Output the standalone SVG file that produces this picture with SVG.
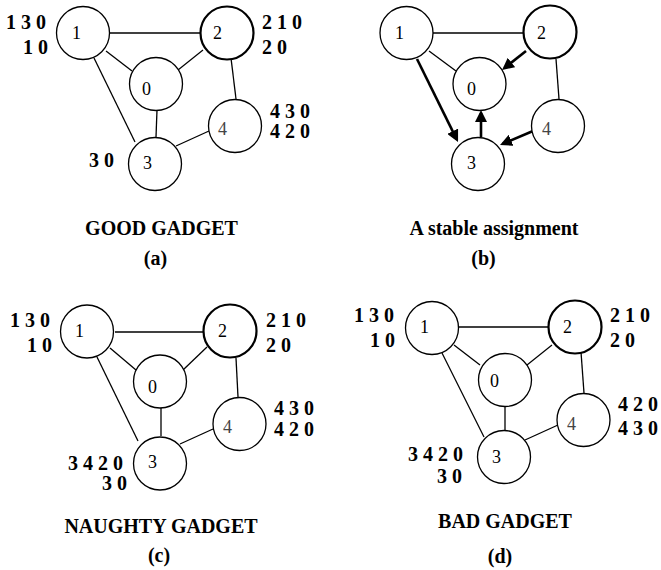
<svg xmlns="http://www.w3.org/2000/svg" width="661" height="570" viewBox="0 0 661 570">
<style>
.n{fill:#fff;stroke:#000;stroke-width:1.3}
.t{stroke-width:2.2}
.e{stroke:#000;stroke-width:1.3;fill:none}
.a{stroke:#000;stroke-width:2.6;fill:none;marker-end:url(#ah)}
.nl{font-family:"Liberation Serif",serif;font-size:18px;fill:#000}
.g{fill:#444}
.d{font-family:"Liberation Serif",serif;font-size:20px;font-weight:bold;fill:#000}
.ti{font-family:"Liberation Serif",serif;font-size:20px;font-weight:bold;fill:#000;text-anchor:middle}
</style>
<defs>
<marker id="ah" markerUnits="userSpaceOnUse" markerWidth="13" markerHeight="12" refX="9" refY="6" orient="auto">
<path d="M0,0 L12,6 L0,12 z" fill="#000"/>
</marker>
</defs>
<rect width="661" height="570" fill="#fff"/>

<!-- Panel (a) -->
<g id="connectors-a">
<line class="e" x1="110" y1="33" x2="200" y2="33"/>
<line class="e" x1="106" y1="51" x2="132" y2="71"/>
<line class="e" x1="203" y1="50" x2="178" y2="70"/>
<line class="e" x1="231" y1="58" x2="236" y2="99"/>
<line class="e" x1="94" y1="58" x2="135" y2="142"/>
<line class="e" x1="157" y1="110" x2="156" y2="137"/>
<line class="e" x1="209" y1="131" x2="176" y2="146"/>
</g>
<g id="a-node1"><circle class="n" cx="83" cy="33" r="26.5"/><text class="nl" x="72" y="39">1</text></g>
<g id="a-node2"><circle class="n t" cx="227" cy="33" r="26.5"/><text class="nl" x="213" y="39">2</text></g>
<g id="a-node0"><circle class="n" cx="156" cy="84" r="26.5"/><text class="nl" x="142" y="95">0</text></g>
<g id="a-node4"><circle class="n" cx="235" cy="126" r="26.5"/><text class="nl g" x="218" y="135">4</text></g>
<g id="a-node3"><circle class="n" cx="155" cy="164" r="26.5"/><text class="nl" x="143" y="169">3</text></g>
<g id="a-labels">
<text class="d" x="6" y="29" xml:space="preserve">1 3 0</text>
<text class="d" x="23" y="54" xml:space="preserve">1 0</text>
<text class="d" x="262" y="29" xml:space="preserve">2 1 0</text>
<text class="d" x="262" y="54" xml:space="preserve">2 0</text>
<text class="d" x="270" y="118" xml:space="preserve">4 3 0</text>
<text class="d" x="270" y="138" xml:space="preserve">4 2 0</text>
<text class="d" x="89" y="167" xml:space="preserve">3 0</text>
<text class="ti" x="161.5" y="235">GOOD GADGET</text>
<text class="ti" x="155.5" y="265">(a)</text>
</g>

<!-- Panel (b) -->
<g id="connectors-b">
<line class="e" x1="433" y1="33" x2="525" y2="33"/>
<line class="e" x1="429" y1="51" x2="456" y2="71"/>
<line class="e" x1="556" y1="59" x2="559" y2="99"/>
<line class="a" x1="526" y1="51" x2="504.4" y2="68.1"/>
<line class="a" x1="417" y1="59" x2="456.7" y2="139.3"/>
<line class="a" x1="481" y1="137" x2="481" y2="113"/>
<line class="a" x1="533" y1="131" x2="502.8" y2="143.8"/>
</g>
<g id="b-node1"><circle class="n" cx="406.5" cy="33" r="26.5"/><text class="nl" x="395" y="39">1</text></g>
<g id="b-node2"><circle class="n t" cx="550" cy="32" r="26.5"/><text class="nl" x="537" y="39">2</text></g>
<g id="b-node0"><circle class="n" cx="479.5" cy="84" r="26.5"/><text class="nl" x="467" y="95">0</text></g>
<g id="b-node4"><circle class="n" cx="558" cy="126" r="26.5"/><text class="nl g" x="542" y="135">4</text></g>
<g id="b-node3"><circle class="n" cx="478" cy="164" r="26.5"/><text class="nl" x="467" y="169">3</text></g>
<g id="b-labels">
<text class="ti" x="494" y="235">A stable assignment</text>
<text class="ti" x="483.5" y="265">(b)</text>
</g>

<!-- Panel (c) -->
<g id="connectors-c">
<line class="e" x1="115" y1="332" x2="205" y2="332"/>
<line class="e" x1="110" y1="348" x2="136" y2="370"/>
<line class="e" x1="207" y1="347" x2="183" y2="370"/>
<line class="e" x1="236" y1="358" x2="238" y2="397"/>
<line class="e" x1="97" y1="357" x2="138" y2="441"/>
<line class="e" x1="161" y1="408" x2="161" y2="436"/>
<line class="e" x1="213" y1="429" x2="180" y2="444"/>
</g>
<g id="c-node1"><circle class="n" cx="87" cy="331.5" r="26.5"/><text class="nl" x="75" y="337">1</text></g>
<g id="c-node2"><circle class="n t" cx="230" cy="331" r="26.5"/><text class="nl" x="218" y="337">2</text></g>
<g id="c-node0"><circle class="n" cx="160" cy="381.5" r="26.5"/><text class="nl" x="148" y="393">0</text></g>
<g id="c-node4"><circle class="n" cx="239.5" cy="424" r="26.5"/><text class="nl g" x="223" y="433">4</text></g>
<g id="c-node3"><circle class="n" cx="160" cy="463.5" r="26.5"/><text class="nl" x="148" y="468">3</text></g>
<g id="c-labels">
<text class="d" x="10" y="327" xml:space="preserve">1 3 0</text>
<text class="d" x="27" y="352" xml:space="preserve">1 0</text>
<text class="d" x="266" y="327" xml:space="preserve">2 1 0</text>
<text class="d" x="266" y="352" xml:space="preserve">2 0</text>
<text class="d" x="274" y="415" xml:space="preserve">4 3 0</text>
<text class="d" x="274" y="436" xml:space="preserve">4 2 0</text>
<text class="d" x="68" y="470" xml:space="preserve">3 4 2 0</text>
<text class="d" x="102" y="490" xml:space="preserve">3 0</text>
<text class="ti" x="161" y="533">NAUGHTY GADGET</text>
<text class="ti" x="159" y="562">(c)</text>
</g>

<!-- Panel (d) -->
<g id="connectors-d">
<line class="e" x1="459" y1="327" x2="550" y2="327"/>
<line class="e" x1="454" y1="345" x2="480" y2="365"/>
<line class="e" x1="552" y1="345" x2="527" y2="365"/>
<line class="e" x1="581" y1="352" x2="584" y2="393"/>
<line class="e" x1="442" y1="353" x2="484" y2="437"/>
<line class="e" x1="505" y1="407" x2="505" y2="431"/>
<line class="e" x1="558" y1="425" x2="525" y2="440"/>
</g>
<g id="d-node1"><circle class="n" cx="432" cy="328" r="26.5"/><text class="nl" x="420" y="333">1</text></g>
<g id="d-node2"><circle class="n t" cx="575" cy="327" r="26.5"/><text class="nl" x="563" y="333">2</text></g>
<g id="d-node0"><circle class="n" cx="505" cy="380" r="26.5"/><text class="nl" x="490" y="387">0</text></g>
<g id="d-node4"><circle class="n" cx="583.5" cy="420" r="26.5"/><text class="nl g" x="567" y="430">4</text></g>
<g id="d-node3"><circle class="n" cx="504" cy="457" r="26.5"/><text class="nl" x="492" y="463">3</text></g>
<g id="d-labels">
<text class="d" x="354" y="322" xml:space="preserve">1 3 0</text>
<text class="d" x="370" y="347" xml:space="preserve">1 0</text>
<text class="d" x="610" y="322" xml:space="preserve">2 1 0</text>
<text class="d" x="610" y="347" xml:space="preserve">2 0</text>
<text class="d" x="618" y="411" xml:space="preserve">4 2 0</text>
<text class="d" x="618" y="435" xml:space="preserve">4 3 0</text>
<text class="d" x="408" y="461" xml:space="preserve">3 4 2 0</text>
<text class="d" x="437" y="483" xml:space="preserve">3 0</text>
<text class="ti" x="505" y="528">BAD GADGET</text>
<text class="ti" x="500" y="563">(d)</text>
</g>
</svg>
